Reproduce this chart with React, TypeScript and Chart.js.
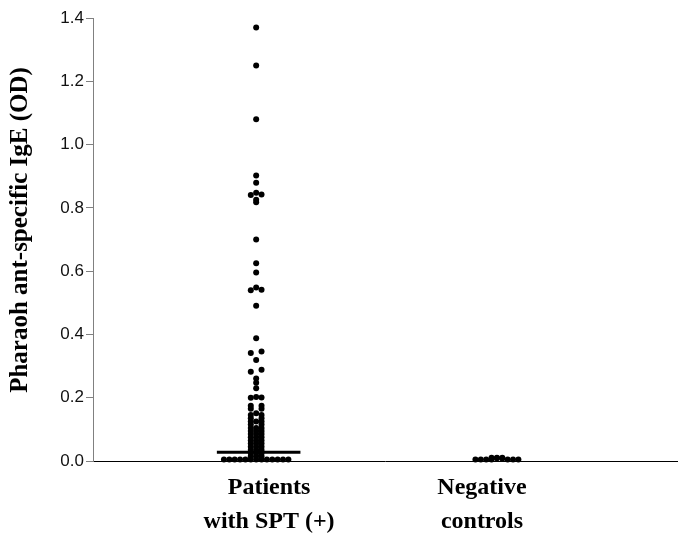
import React, { useEffect, useRef } from "react";
import { Chart, registerables } from "chart.js";

Chart.register(...registerables);

// ---- Data ----
const CATEGORIES: string[][] = [
  ["Patients", "with SPT (+)"],
  ["Negative", "controls"],
];

const PATIENT_VALUES: number[] = [
  // bottom row
  0.005, 0.005, 0.005, 0.005, 0.005, 0.005, 0.005, 0.005, 0.005, 0.005, 0.005, 0.005, 0.005,
  // dense stacks
  0.015, 0.015, 0.015, 0.025, 0.025, 0.025, 0.035, 0.035, 0.035, 0.045, 0.045, 0.045,
  0.055, 0.055, 0.055, 0.065, 0.065, 0.065, 0.075, 0.075, 0.075, 0.085, 0.085, 0.085,
  0.095, 0.095, 0.095, 0.104, 0.104, 0.104,
  0.115, 0.115, 0.125, 0.125, 0.125, 0.135, 0.135, 0.145, 0.145, 0.151,
  0.165, 0.165, 0.175, 0.175,
  0.2, 0.201, 0.202,
  0.23, 0.247, 0.261, 0.282, 0.288, 0.319, 0.341, 0.346, 0.388, 0.491,
  0.54, 0.541, 0.548, 0.596, 0.625, 0.7,
  0.818, 0.826, 0.841, 0.842, 0.848, 0.879, 0.902,
  1.08, 1.25, 1.37,
];

const CONTROL_VALUES: number[] = [
  0.005, 0.005, 0.005, 0.005, 0.005, 0.005, 0.005, 0.008, 0.009, 0.01, 0.01, 0.01,
];

const PATIENT_MEDIAN = 0.028;

const Y_TICKS: number[] = [0, 0.2, 0.4, 0.6, 0.8, 1.0, 1.2, 1.4];
const Y_TITLE = "Pharaoh ant-specific IgE (OD)";

// ---- Layout constants ----
const W = 680;
const H = 536;
const Y_AXIS_W = 93;
const TOP_PAD = 18;
const X_AXIS_H = 75;
const X_MIN = 0.3223;
const X_MAX = 2.748;
const DOT_STEP_PX = 5.4;
const DOT_R = 3;
const BIN = 0.01;
const MEDIAN_HALF_PX = 42;
const MEDIAN_SHIFT_PX = 2.5;
const LABEL_SHIFT_PX = [13, -15];
const TITLE_X = 21;
const TITLE_Y = 230;

const SERIF = "'Liberation Serif', 'Times New Roman', serif";
const SANS = "'Liberation Sans', Arial, sans-serif";

function swarm(values: number[], center: number, step: number) {
  const bins = new Map<number, number[]>();
  for (const v of values) {
    const k = Math.floor(v / BIN + 1e-9);
    if (!bins.has(k)) bins.set(k, []);
    bins.get(k)!.push(v);
  }
  const pts: { x: number; y: number }[] = [];
  bins.forEach((vs) => {
    vs.sort((a, b) => a - b);
    const n = vs.length;
    const offs =
      n === 2 ? [-1, 1] : Array.from({ length: n }, (_, i) => i - (n - 1) / 2);
    const order = offs
      .slice()
      .sort((a, b) => Math.abs(b) - Math.abs(a) || a - b);
    vs.forEach((v, i) => pts.push({ x: center + order[i] * step, y: v }));
  });
  return pts;
}

const titlePlugin = {
  id: "yTitle",
  afterDraw(chart: any) {
    const ctx = chart.ctx as CanvasRenderingContext2D;
    ctx.save();
    ctx.translate(TITLE_X, TITLE_Y);
    ctx.rotate(-Math.PI / 2);
    ctx.font = `bold 25px ${SERIF}`;
    ctx.fillStyle = "#000";
    ctx.textAlign = "center";
    ctx.textBaseline = "middle";
    ctx.fillText(Y_TITLE, 0, 0);
    ctx.restore();
  },
};

export default function App() {
  const ref = useRef<HTMLCanvasElement | null>(null);

  useEffect(() => {
    document.body.style.margin = "0";
    const canvas = ref.current;
    if (!canvas) return;
    const unitPx = (W - Y_AXIS_W) / (X_MAX - X_MIN);
    const step = DOT_STEP_PX / unitPx;
    const hw = MEDIAN_HALF_PX / unitPx;
    const mShift = MEDIAN_SHIFT_PX / unitPx;

    const dotStyle = {
      type: "scatter" as const,
      backgroundColor: "#000",
      borderColor: "#000",
      borderWidth: 0,
      pointRadius: DOT_R,
      pointHoverRadius: DOT_R,
      clip: false as any,
    };

    const chart = new Chart(canvas, {
      type: "scatter",
      plugins: [titlePlugin],
      data: {
        datasets: [
          { ...dotStyle, label: "patients", data: swarm(PATIENT_VALUES, 1, step) },
          { ...dotStyle, label: "controls", data: swarm(CONTROL_VALUES, 2, step) },
          {
            type: "line",
            label: "median",
            data: [
              { x: 1 + mShift - hw, y: PATIENT_MEDIAN },
              { x: 1 + mShift + hw, y: PATIENT_MEDIAN },
            ],
            borderColor: "#000",
            borderWidth: 3,
            pointRadius: 0,
            showLine: true,
            clip: false as any,
          } as any,
        ],
      },
      options: {
        animation: false,
        responsive: false,
        devicePixelRatio: 1,
        layout: { padding: { top: TOP_PAD, left: 0, right: 0, bottom: 0 } },
        plugins: {
          legend: { display: false },
          tooltip: { enabled: false },
        },
        scales: {
          x: {
            type: "linear",
            min: X_MIN,
            max: X_MAX,
            afterBuildTicks: (scale: any) => {
              scale.ticks = CATEGORIES.map((_, i) => ({
                value: i + 1 + LABEL_SHIFT_PX[i] / unitPx,
              }));
            },
            afterFit: (scale: any) => {
              scale.height = X_AXIS_H;
            },
            grid: { display: false, drawTicks: false },
            border: { display: true, color: "#000", width: 1 },
            ticks: {
              autoSkip: false,
              maxRotation: 0,
              padding: 10,
              color: "#000",
              font: { family: SERIF, size: 24, weight: "bold", lineHeight: 1.4 },
              callback: (_v: any, i: number) => CATEGORIES[i] ?? "",
            },
          },
          y: {
            type: "linear",
            min: 0,
            max: 1.4,
            afterBuildTicks: (scale: any) => {
              scale.ticks = Y_TICKS.map((v) => ({ value: v }));
            },
            afterFit: (scale: any) => {
              scale.width = Y_AXIS_W;
            },
            grid: {
              display: true,
              drawOnChartArea: false,
              drawTicks: true,
              tickLength: 7,
              color: "#808080",
            },
            border: { display: true, color: "#808080", width: 1 },
            ticks: {
              padding: 2,
              color: "#111",
              font: { family: SANS, size: 17 },
              callback: (v: any) => Number(v).toFixed(1),
            },
          },
        },
      },
    });
    return () => chart.destroy();
  }, []);

  return (
    <canvas
      ref={ref}
      width={W}
      height={H}
      style={{ display: "block", width: W, height: H }}
    />
  );
}
